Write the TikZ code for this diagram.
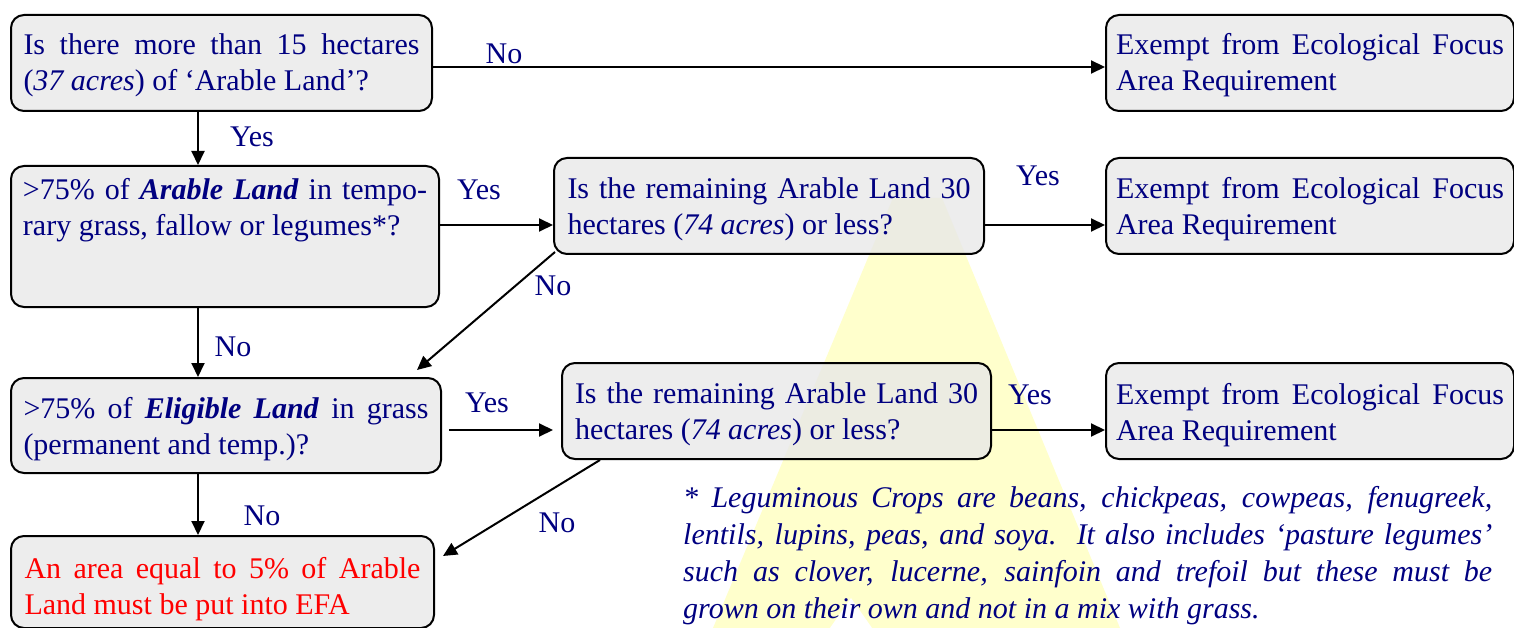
\documentclass[tikz,border=0pt]{standalone}
\usepackage{fontspec}
\setmainfont{Liberation Serif}
\usetikzlibrary{arrows.meta,calc}
\definecolor{navy}{RGB}{0,0,128}
\definecolor{boxgray}{RGB}{232,232,232}
\definecolor{spot}{RGB}{255,255,204}
\newcommand\boxtext[4]{\parbox[c][#1][t]{#2}{\vspace*{#3}\rule{0pt}{25pt}#4}}
\begin{document}
\begin{tikzpicture}[x=1pt,y=-1pt,
  every node/.style={font=\fontsize{30}{36}\selectfont, text=navy},
  flowbox/.style={draw=black, line width=2pt, rounded corners=13pt, fill=boxgray, fill opacity=0.8, text opacity=1, inner sep=0pt, anchor=north west},
  lbl/.style={inner sep=0pt},
  arr/.style={line width=2pt, -{Triangle[length=14pt,width=13pt]}}]
\useasboundingbox (0,0) rectangle (1514,628);
% yellow spotlight
\fill[spot] (893,198) -- (942,198) -- (1120,628) -- (713,628) -- cycle;
\fill[white] (830,628) -- (851,598) -- (872,628) -- cycle;
% boxes
\node[flowbox, minimum width=421pt, minimum height=96pt] (A) at (10,14)
  {\boxtext{96pt}{396pt}{15pt}{\makebox[396pt][s]{Is there more than 15 hectares}\\(\textit{37 acres}) of `Arable Land'?}};
\node[flowbox, minimum width=408pt, minimum height=96pt] (B) at (1105,14)
  {\boxtext{96pt}{388pt}{15pt}{\makebox[388pt][s]{Exempt from Ecological Focus}\\Area Requirement}};
\node[flowbox, minimum width=428pt, minimum height=141pt] (C) at (10,165)
  {\boxtext{141pt}{404pt}{9pt}{\makebox[404pt][s]{>75\% of \textbf{\textit{Arable Land}} in tempo-}\\rary grass, fallow or legumes*?}};
\node[flowbox, minimum width=430pt, minimum height=96pt] (D) at (553,157)
  {\boxtext{96pt}{403pt}{16pt}{\makebox[403pt][s]{Is the remaining Arable Land 30}\\hectares (\textit{74 acres}) or less?}};
\node[flowbox, minimum width=408pt, minimum height=96pt] (E) at (1105,157)
  {\boxtext{96pt}{388pt}{16pt}{\makebox[388pt][s]{Exempt from Ecological Focus}\\Area Requirement}};
\node[flowbox, minimum width=430pt, minimum height=95pt] (F) at (10,377)
  {\boxtext{95pt}{405pt}{15pt}{\makebox[405pt][s]{>75\% of \textbf{\textit{Eligible Land}} in grass}\\(permanent and temp.)?}};
\node[flowbox, minimum width=429pt, minimum height=96pt] (G) at (561,362)
  {\boxtext{96pt}{403pt}{15pt}{\makebox[403pt][s]{Is the remaining Arable Land 30}\\hectares (\textit{74 acres}) or less?}};
\node[flowbox, minimum width=408pt, minimum height=96pt] (H) at (1105,362)
  {\boxtext{96pt}{388pt}{16pt}{\makebox[388pt][s]{Exempt from Ecological Focus}\\Area Requirement}};
\node[flowbox, minimum width=423pt, minimum height=92pt, text=red] (I) at (10,535)
  {\boxtext{92pt}{396pt}{17pt}{\makebox[396pt][s]{An area equal to 5\% of Arable}\\Land must be put into EFA}};
% footnote
\node[anchor=north west, inner sep=0pt, font=\fontsize{30}{37}\selectfont\itshape] (note) at (683,482)
  {\parbox[t]{809pt}{\rule{0pt}{25pt}\makebox[809pt][s]{* Leguminous Crops are beans, chickpeas, cowpeas, fenugreek,}\\
   \makebox[809pt][s]{lentils, lupins, peas, and soya.\ \ It also includes `pasture legumes'}\\
   \makebox[809pt][s]{such as clover, lucerne, sainfoin and trefoil but these must be}\\
   grown on their own and not in a mix with grass.}};
% helper coordinates
\coordinate (xv) at (198,0);
\coordinate (y1) at (0,225);
\coordinate (y2) at (0,430);
% connectors
\draw[arr] ([yshift=-4pt]A.east) -- ([yshift=-4pt]B.west);
\draw[arr] (A.south -| xv) -- (C.north -| xv);
\draw[arr] (C.east |- y1) -- (D.west |- y1);
\draw[arr] (D.east |- y1) -- (E.west |- y1);
\draw[arr] ($(D.south west)+(2pt,3pt)$) -- ($(F.north east)+(-25pt,7pt)$);
\draw[arr] (C.south -| xv) -- (F.north -| xv);
\draw[arr] ($(F.east |- y2)+(7pt,0)$) -- ($(G.west |- y2)+(-8pt,0)$);
\draw[arr] (G.east |- y2) -- (H.west |- y2);
\draw[arr] ($(G.south west)+(39pt,0)$) -- ($(I.north east)+(8pt,-21pt)$);
\draw[arr] (F.south -| xv) -- (I.north -| xv);
% labels
\node[lbl] (lAB) at (504,54) {No};
\node[lbl] (lAC) at (252,137) {Yes};
\node[lbl] (lCD) at (479,190) {Yes};
\node[lbl] (lDE) at (1038,176) {Yes};
\node[lbl] (lDF) at (553,286) {No};
\node[lbl] (lCF) at (233,347) {No};
\node[lbl] (lFG) at (487,403) {Yes};
\node[lbl] (lGH) at (1030,395) {Yes};
\node[lbl] (lFI) at (262,516) {No};
\node[lbl] (lGI) at (557,523) {No};
\end{tikzpicture}
\end{document}
